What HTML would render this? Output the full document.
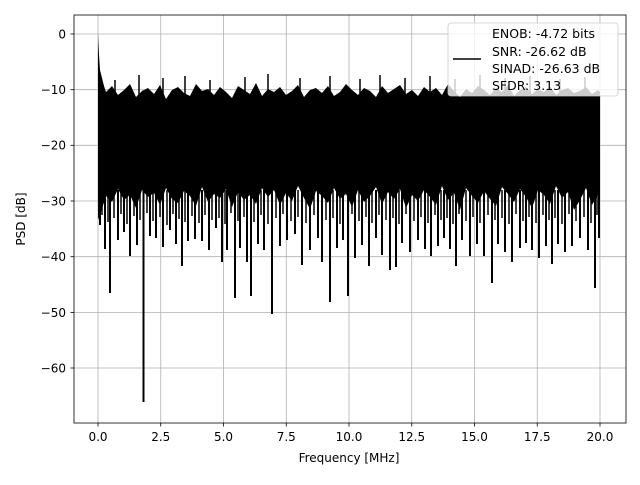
<!DOCTYPE html>
<html><head><meta charset="utf-8"><style>
body{margin:0;background:#fff}
svg text{font-family:"DejaVu Sans","Liberation Sans",sans-serif;font-size:12px;fill:#000}
</style></head><body>
<svg width="640" height="480" xmlns="http://www.w3.org/2000/svg">
<rect width="640" height="480" fill="#fff"/>
<g stroke="#b0b0b0" stroke-width="0.8">
<line x1="98" x2="98" y1="15" y2="423"/><line x1="160.75" x2="160.75" y1="15" y2="423"/><line x1="223.5" x2="223.5" y1="15" y2="423"/><line x1="286.25" x2="286.25" y1="15" y2="423"/><line x1="349" x2="349" y1="15" y2="423"/><line x1="411.75" x2="411.75" y1="15" y2="423"/><line x1="474.5" x2="474.5" y1="15" y2="423"/><line x1="537.25" x2="537.25" y1="15" y2="423"/><line x1="600" x2="600" y1="15" y2="423"/>
<line x1="74" x2="626" y1="34" y2="34"/><line x1="74" x2="626" y1="89.7" y2="89.7"/><line x1="74" x2="626" y1="145.3" y2="145.3"/><line x1="74" x2="626" y1="201" y2="201"/><line x1="74" x2="626" y1="256.7" y2="256.7"/><line x1="74" x2="626" y1="312.4" y2="312.4"/><line x1="74" x2="626" y1="368" y2="368"/>
</g>
<polygon fill="#000" points="98,34 99,55 100,70 102,78 104,86 106,92 112,86 118,95 124,90 130,84 136,97 142,91 148,88 154,94 160,85 166,99 172,90 178,87 184,93 190,96 196,84 202,91 208,89 214,95 220,87 226,92 232,98 238,86 244,90 250,94 256,83 262,96 268,89 274,92 280,87 286,95 292,91 298,85 304,97 310,90 316,88 322,93 328,86 334,96 340,92 346,84 352,90 358,95 364,88 370,91 376,97 382,86 388,93 394,89 400,85 406,94 412,90 418,96 424,87 430,92 436,88 442,95 448,84 454,91 460,97 466,89 472,93 478,86 484,90 490,95 496,88 502,92 508,85 514,96 520,90 526,87 532,94 538,89 544,92 550,86 556,95 562,90 568,88 574,93 580,91 586,87 592,94 598,90 600,92 600,196 598,195 592,205 586,188 580,200 574,210 568,192 562,198 556,186 550,204 544,195 538,190 532,208 526,197 520,189 514,202 508,194 502,187 496,206 490,199 484,191 478,203 472,196 466,188 460,210 454,193 448,200 442,186 436,205 430,197 424,190 418,201 412,195 406,208 400,189 394,199 388,192 382,204 376,187 370,196 364,202 358,190 352,207 346,194 340,199 334,188 328,203 322,196 316,191 310,209 304,198 298,186 292,201 286,193 280,205 274,190 268,197 262,188 256,204 250,195 244,200 238,192 232,207 226,189 220,198 214,194 208,202 202,187 196,206 190,196 184,191 178,203 172,199 166,188 160,205 154,193 148,197 142,190 136,208 130,195 124,200 118,189 112,202 106,196 100,215 98,220"/>
<g stroke="#000" stroke-width="2">
<path d="M100,190V225M105,190V249M110,190V293M118,190V240M124,190V232M130,190V256M137,190V245M143.5,190V402M150,190V236M156,190V238M163,190V247M170,190V230M176,190V244M182,190V266M188,190V241M195,190V239M202,190V241M209,190V250M216,190V228M222,190V262M227,190V250M235,190V298M240,190V248M247,190V262M251,190V296M258,190V244M264,190V250M272,190V314M280,190V246M287,190V240M295,190V234M302,190V265M310,190V250M318,190V238M322,190V262M330,190V302M337,190V248M343,190V240M348,190V296M355,190V258M362,190V245M369,190V266M376,190V238M382,190V255M390,190V270M396,190V267M402,190V243M410,190V252M418,190V240M425,190V249M431,190V256M438,190V246M444,190V238M450,190V249M456,190V266M462,190V240M470,190V256M477,190V244M484,190V256M492,190V283M498,190V244M505,190V252M512,190V262M520,190V248M526,190V243M532,190V250M539,190V258M546,190V246M552,190V264M558,190V244M565,190V252M572,190V246M580,190V238M588,190V250M595,190V288M599,190V238"/>
<path stroke-width="1.5" d="M102,190V215M108,190V222M114,190V218M121,190V214M127,190V224M134,190V216M140,190V220M147,190V213M153,190V221M160,190V217M167,190V225M173,190V214M179,190V219M185,190V222M192,190V216M199,190V223M205,190V215M212,190V220M219,190V218M225,190V224M231,190V213M238,190V221M244,190V217M254,190V222M261,190V215M268,190V224M276,190V218M283,190V214M291,190V221M298,190V217M306,190V223M314,190V215M326,190V220M333,190V218M340,190V224M352,190V214M359,190V221M366,190V217M372,190V223M379,190V215M386,190V220M393,190V218M399,190V224M406,190V214M414,190V221M421,190V217M428,190V223M435,190V215M441,190V220M447,190V218M453,190V224M459,190V214M466,190V221M473,190V217M480,190V223M488,190V215M495,190V220M502,190V218M509,190V224M516,190V214M523,190V221M529,190V217M536,190V223M543,190V215M549,190V220M555,190V218M562,190V224M569,190V214M576,190V221M584,190V217M591,190V223M597,190V215"/>
<path stroke-width="1.5" d="M115,100V80M139,100V75M163,100V78M185,100V76M210,100V80M245,100V77M268,100V74M300,100V78M330,100V76M360,100V79M380,100V75M405,100V78M430,100V76M455,100V79M480,100V75M505,100V78M530,100V76M560,100V79M585,100V77"/>
</g>
<rect x="74" y="15" width="552" height="408" fill="none" stroke="#000" stroke-width="0.8"/>
<g stroke="#000" stroke-width="0.8">
<line x1="98" x2="98" y1="423" y2="426.5"/><line x1="160.75" x2="160.75" y1="423" y2="426.5"/><line x1="223.5" x2="223.5" y1="423" y2="426.5"/><line x1="286.25" x2="286.25" y1="423" y2="426.5"/><line x1="349" x2="349" y1="423" y2="426.5"/><line x1="411.75" x2="411.75" y1="423" y2="426.5"/><line x1="474.5" x2="474.5" y1="423" y2="426.5"/><line x1="537.25" x2="537.25" y1="423" y2="426.5"/><line x1="600" x2="600" y1="423" y2="426.5"/>
<line x1="70.5" x2="74" y1="34" y2="34"/><line x1="70.5" x2="74" y1="89.7" y2="89.7"/><line x1="70.5" x2="74" y1="145.3" y2="145.3"/><line x1="70.5" x2="74" y1="201" y2="201"/><line x1="70.5" x2="74" y1="256.7" y2="256.7"/><line x1="70.5" x2="74" y1="312.4" y2="312.4"/><line x1="70.5" x2="74" y1="368" y2="368"/>
</g>
<g text-anchor="middle">
<text x="98" y="441">0.0</text><text x="160.75" y="441">2.5</text><text x="223.5" y="441">5.0</text><text x="286.25" y="441">7.5</text><text x="349" y="441">10.0</text><text x="411.75" y="441">12.5</text><text x="474.5" y="441">15.0</text><text x="537.25" y="441">17.5</text><text x="600" y="441">20.0</text>
</g>
<g text-anchor="end">
<text x="66" y="38.5">0</text><text x="66" y="94">−10</text><text x="66" y="149.5">−20</text><text x="66" y="205.5">−30</text><text x="66" y="261">−40</text><text x="66" y="317">−50</text><text x="66" y="372.5">−60</text>
</g>
<text x="349" y="462" text-anchor="middle">Frequency [MHz]</text>
<text transform="translate(25,219) rotate(-90)" text-anchor="middle">PSD [dB]</text>
<rect x="448" y="23" width="170" height="73" rx="3" fill="#fff" fill-opacity="0.8" stroke="#cccccc" stroke-width="0.8"/>
<line x1="453" y1="59" x2="481" y2="59" stroke="#000" stroke-width="1.5"/>
<text x="492" y="38" style="font-size:12.5px">ENOB: -4.72 bits</text>
<text x="492" y="56" style="font-size:12.5px">SNR: -26.62 dB</text>
<text x="492" y="73" style="font-size:12.5px">SINAD: -26.63 dB</text>
<text x="492" y="90" style="font-size:12.5px">SFDR: 3.13</text>
</svg>
</body></html>
